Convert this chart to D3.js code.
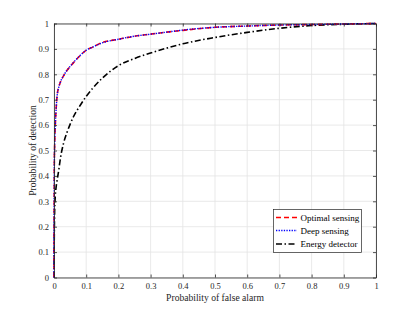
<!DOCTYPE html>
<html><head><meta charset="utf-8">
<script src="https://cdn.jsdelivr.net/npm/d3@7"></script>
<style>
body{margin:0;background:#fff;}
svg{display:block;font-family:"Liberation Serif","Times New Roman",serif;}
</style></head>
<body><svg id="c" width="415" height="312"></svg>
<script>
const pfOpt = [0, 0.001, 0.002, 0.004, 0.006, 0.008, 0.01, 0.015, 0.02, 0.03, 0.04, 0.05, 0.06, 0.08, 0.1, 0.12, 0.15, 0.2, 0.25, 0.3, 0.35, 0.4, 0.5, 0.6, 0.7, 0.8, 0.9, 1];
const pdOptimal = [0, 0.45, 0.52, 0.6, 0.65, 0.69, 0.72, 0.75, 0.77, 0.795, 0.815, 0.83, 0.845, 0.872, 0.895, 0.907, 0.925, 0.938, 0.95, 0.958, 0.966, 0.973, 0.985, 0.99, 0.994, 0.996, 0.998, 1];
const pdDeep =    [0, 0.44, 0.52, 0.6, 0.65, 0.69, 0.718, 0.75, 0.77, 0.795, 0.815, 0.831, 0.846, 0.873, 0.895, 0.907, 0.924, 0.938, 0.95, 0.958, 0.966, 0.974, 0.985, 0.99, 0.994, 0.996, 0.998, 1];
const pfEnergy = [0, 0.001, 0.002, 0.004, 0.006, 0.008, 0.01, 0.015, 0.02, 0.03, 0.04, 0.05, 0.06, 0.08, 0.1, 0.12, 0.15, 0.2, 0.25, 0.3, 0.35, 0.4, 0.5, 0.6, 0.7, 0.8, 0.9, 1];
const pdEnergy = [0, 0.18, 0.26, 0.32, 0.35, 0.37, 0.385, 0.425, 0.47, 0.53, 0.57, 0.603, 0.632, 0.675, 0.713, 0.745, 0.785, 0.834, 0.862, 0.884, 0.903, 0.92, 0.945, 0.965, 0.981, 0.992, 0.997, 1];
const tickVals = [0,0.1,0.2,0.3,0.4,0.5,0.6,0.7,0.8,0.9,1];
const seriesNames = ["Optimal sensing","Deep sensing","Energy detector"];

const svg = d3.select("#c");
const L=54, R=376, T=23.5, B=277.5;
const x = d3.scaleLinear().domain([0,1]).range([L,R]);
const y = d3.scaleLinear().domain([0,1]).range([B,T]);
const axisCol="#262626", gridCol="#e3e3e3";
const fmt = d => d===0?"0":d===1?"1":d3.format(".1f")(d);

// grid
const g = svg.append("g");
g.selectAll(".gx").data(tickVals).enter().append("line")
 .attr("x1",d=>x(d)).attr("x2",d=>x(d)).attr("y1",T).attr("y2",B)
 .attr("stroke",gridCol).attr("stroke-width",0.8);
g.selectAll(".gy").data(tickVals).enter().append("line")
 .attr("y1",d=>y(d)).attr("y2",d=>y(d)).attr("x1",L).attr("x2",R)
 .attr("stroke",gridCol).attr("stroke-width",0.8);

// curves
const line = (xs,ys)=>d3.line().curve(d3.curveMonotoneX).x((d,i)=>x(xs[i])).y(d=>y(d))(ys);
svg.append("path").attr("d",line(pfEnergy,pdEnergy)).attr("fill","none")
 .attr("stroke","#000").attr("stroke-width",1.6).attr("stroke-dasharray","6,2.5,1.5,2.5");
svg.append("path").attr("d",line(pfOpt,pdOptimal)).attr("fill","none")
 .attr("stroke","#ff0000").attr("stroke-width",1.6).attr("stroke-dasharray","5,3");
svg.append("path").attr("d",line(pfOpt,pdDeep)).attr("fill","none")
 .attr("stroke","#0000ff").attr("stroke-width",1.4).attr("stroke-dasharray","1.3,1.3");

// axes
const ax = svg.append("g");
const xb = d3.axisBottom(x).tickValues(tickVals).tickFormat(fmt).tickSizeInner(-3).tickSizeOuter(0).tickPadding(5);
const xt = d3.axisTop(x).tickValues(tickVals).tickFormat("").tickSizeInner(-3).tickSizeOuter(0);
const yl = d3.axisLeft(y).tickValues(tickVals).tickFormat(fmt).tickSizeInner(-3).tickSizeOuter(0).tickPadding(5);
const yr = d3.axisRight(y).tickValues(tickVals).tickFormat("").tickSizeInner(-3).tickSizeOuter(0);
[[xb,`translate(0,${B})`],[xt,`translate(0,${T})`],[yl,`translate(${L},0)`],[yr,`translate(${R},0)`]].forEach(([a,t])=>{
  const gg = ax.append("g").attr("transform",t).call(a);
  gg.selectAll("path,line").attr("stroke",axisCol).attr("stroke-width",0.8);
  gg.selectAll("text").attr("fill",axisCol).style("font-size","8.5px").style("font-family","Liberation Serif, serif");
});

// axis labels
svg.append("text").attr("x",(L+R)/2).attr("y",300.5).attr("text-anchor","middle")
 .attr("fill",axisCol).style("font-size","9.6px").text("Probability of false alarm");
svg.append("text").attr("transform",`translate(36,${(T+B)/2}) rotate(-90)`).attr("text-anchor","middle")
 .attr("fill",axisCol).style("font-size","9.6px").text("Probability of detection");

// legend
const lg = svg.append("g");
lg.append("rect").attr("x",273.5).attr("y",209.5).attr("width",88).attr("height",43)
 .attr("fill","#fff").attr("stroke",axisCol).attr("stroke-width",0.7);
const ly=[217.5,230.5,244];
const styles=[{c:"#ff0000",d:"5,3",w:1.6},{c:"#0000ff",d:"1.3,1.3",w:1.4},{c:"#000",d:"6,2.5,1.5,2.5",w:1.6}];
seriesNames.forEach((n,i)=>{
  lg.append("line").attr("x1",276).attr("x2",297).attr("y1",ly[i]).attr("y2",ly[i])
   .attr("stroke",styles[i].c).attr("stroke-width",styles[i].w).attr("stroke-dasharray",styles[i].d);
  lg.append("text").attr("x",300.5).attr("y",ly[i]).attr("dy","0.35em").attr("fill","#000")
   .style("font-size","9px").text(n);
});
</script></body></html>
